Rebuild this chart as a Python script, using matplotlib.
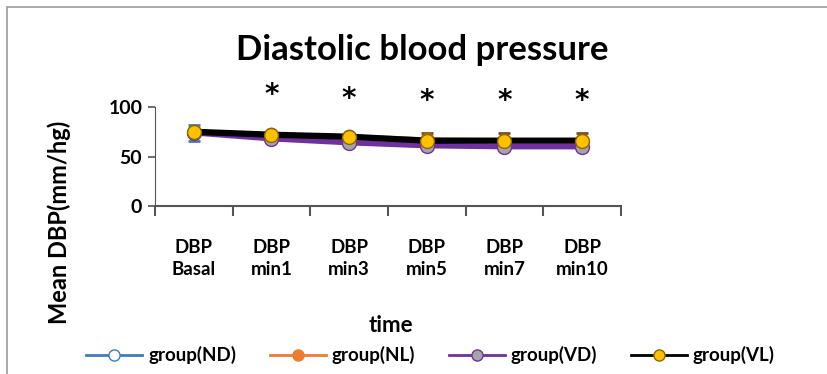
import numpy as np
import matplotlib
matplotlib.use("Agg")
import matplotlib.pyplot as plt
from matplotlib.patches import Rectangle
from matplotlib.lines import Line2D

plt.rcParams['font.family'] = ['Lato', 'DejaVu Sans']

categories = ["DBP\nBasal", "DBP\nmin1", "DBP\nmin3", "DBP\nmin5", "DBP\nmin7", "DBP\nmin10"]
nd = [74, 71, 68, 65, 65, 65]
nl = [76, 73, 71, 68, 67, 67]
vd = [74, 68, 64, 61, 60, 60]
vl = [75, 72, 70, 66, 66, 66]
nd_err = [8, 2, 2, 2, 2, 2]
nl_err = [2, 2, 2, 6, 7, 7]
stars = ["", "*", "*", "*", "*", "*"]
star_y = [0, 112, 108, 106, 106, 106]

fig = plt.figure(figsize=(8.28, 3.74), dpi=100)
fig.patches.append(Rectangle((7 / 828, -0.1), 1.2, 1 - 7 / 374 + 0.1, transform=fig.transFigure,
                             fill=False, edgecolor="#9a9a9a", linewidth=1.2))
ax = fig.add_axes([0.187, 0.449, 0.563, 0.265])
x = np.arange(len(categories))

ax.errorbar(x, nd, yerr=nd_err, color="#3b7dc4", lw=2, marker="o", ms=9, mfc="white",
            mec="#3b7dc4", capsize=4, capthick=2, elinewidth=1.5, zorder=2)
ax.errorbar(x, nl, yerr=nl_err, color="#ed7d31", lw=2, marker="o", ms=9, mfc="#ed7d31",
            mec="#b85c1a", capsize=4, capthick=2, elinewidth=1.5, ecolor="#7f4a2a", zorder=3)
ax.plot(x, vd, color="#7030a0", lw=4, marker="o", ms=10, mfc="#a5a5a5", mec="#7030a0", zorder=4)
ax.plot(x, vl, color="black", lw=4.5, marker="o", ms=10, mfc="#ffc000", mec="#8a6a00", zorder=5)

for xi, s, sy in zip(x, stars, star_y):
    ax.text(xi, sy, s, ha="center", va="center", fontsize=20, fontweight="bold",
            family="DejaVu Sans", clip_on=False)

ax.set_xlim(-0.5, 5.5)
ax.set_ylim(0, 100)
ax.set_yticks([0, 50, 100])
ax.set_yticklabels(["0", "50", "100"], fontsize=14, fontweight="bold")
ax.set_xticks(np.arange(-0.5, 6, 1))
ax.set_xticklabels([])
ax.set_xticks(x, minor=True)
ax.set_xticklabels(categories, minor=True, fontsize=13.5, fontweight="bold", linespacing=1.3)
ax.tick_params(axis="x", which="minor", length=0, pad=24)
ax.tick_params(axis="x", which="major", length=7, width=1.5, color="#555555", direction="out")
ax.tick_params(axis="y", length=5, width=1.2, color="#555555", direction="out", pad=4)
ax.spines["top"].set_visible(False)
ax.spines["right"].set_visible(False)
ax.spines["left"].set_color("#555555")
ax.spines["bottom"].set_color("#555555")
ax.spines["bottom"].set_linewidth(1.5)

fig.text(0.51, 0.866, "Diastolic blood pressure", ha="center", va="center", fontsize=25, fontweight="bold")
fig.text(0.472, 0.13, "time", ha="center", va="center", fontsize=16, fontweight="bold")
fig.text(0.072, 0.406, "Mean DBP(mm/hg)", ha="center", va="center", rotation=90, fontsize=17, fontweight="bold")

handles = [
    Line2D([], [], color="#3b7dc4", lw=2, marker="o", ms=8, mfc="white", mec="#3b7dc4"),
    Line2D([], [], color="#ed7d31", lw=2, marker="o", ms=8, mfc="#ed7d31", mec="#ed7d31"),
    Line2D([], [], color="#7030a0", lw=2, marker="o", ms=8, mfc="#a5a5a5", mec="#7030a0"),
    Line2D([], [], color="black", lw=2, marker="o", ms=8, mfc="#ffc000", mec="#8a6a00"),
]
labels = ["group(ND)", "group(NL)", "group(VD)", "group(VL)"]
fig.legend(handles, labels, loc="center", bbox_to_anchor=(0.52, 0.05), ncol=4, frameon=False,
           prop={"size": 13.5, "weight": "bold"}, handlelength=3, columnspacing=1.8, handletextpad=0.3)

fig.savefig("out.png", dpi=100)
